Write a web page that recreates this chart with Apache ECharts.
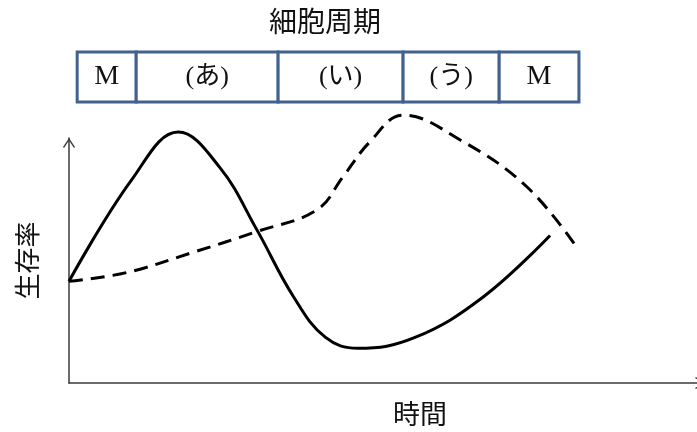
<!DOCTYPE html>
<html>
<head>
<meta charset="utf-8">
<title>細胞周期と生存率</title>
<script src="https://cdn.jsdelivr.net/npm/echarts@6/dist/echarts.min.js"></script>
<style>
  html, body { margin: 0; padding: 0; background: #fff; }
  #chart { width: 697px; height: 432px; }
</style>
</head>
<body>
<div id="chart"></div>
<script>
const TITLE = "細胞周期";
const X_NAME = "時間";
const Y_NAME = "生存率";

// cell cycle phases along the time axis (start, end)
const PHASE_LABELS = ["M", "(あ)", "(い)", "(う)", "M"];
const PHASE_BOUNDS = [1.3, 10.7, 33.3, 53.2, 68.5, 81.2];

// solid curve: [time, survival]
const SOLID_CURVE = [
  [0, 41.5], [10.0, 83.0], [17.4, 102.4], [24.0, 88.0], [29.9, 62.6],
  [35.7, 35.4], [40.8, 18.7], [46.0, 14.2], [55.0, 18.5], [65.9, 35.0],
  [76.6, 60.2],
];

// dashed curve: [time, survival]
const DASHED_CURVE = [
  [0, 41.5], [9.2, 45.1], [19.7, 53.3], [29.9, 61.8], [39.5, 70.7],
  [43.6, 84.1], [47.9, 98.4], [53.2, 109.3], [62.3, 99.2], [72.9, 80.1],
  [81.1, 54.5],
];

const BORDER_COLOR = "#41618f";
const TEXT_COLOR = "#111";
const AXIS_COLOR = "#3a3a3a";
const CJK_FONT = "'Noto Sans CJK JP', sans-serif";
const SERIF_FONT = "'Liberation Serif', 'Noto Sans CJK JP', serif";
const CHEVRON = "path://M0 0 L6 9 L5 10 L0 2.4 L-5 10 L-6 9 Z";

const phaseData = PHASE_LABELS.map((label, i) => [PHASE_BOUNDS[i], PHASE_BOUNDS[i + 1]]);

function renderPhase(params, api) {
  const topLeft = api.coord([api.value(0), 1]);
  const bottomRight = api.coord([api.value(1), 0]);
  const label = PHASE_LABELS[params.dataIndex];
  const isM = label === "M";
  return {
    type: "rect",
    shape: {
      x: topLeft[0],
      y: topLeft[1],
      width: bottomRight[0] - topLeft[0],
      height: bottomRight[1] - topLeft[1],
    },
    style: { fill: "#fff", stroke: BORDER_COLOR, lineWidth: 3 },
    textContent: {
      style: {
        text: label,
        fill: TEXT_COLOR,
        fontSize: isM ? 28 : 26,
        fontFamily: SERIF_FONT,
      },
    },
    textConfig: { position: "inside" },
  };
}

const chart = echarts.init(document.getElementById("chart"));

chart.setOption({
  animation: false,
  title: {
    text: TITLE,
    left: 325,
    top: 7,
    padding: 0,
    textAlign: "center",
    textStyle: { fontSize: 28, fontWeight: "normal", color: TEXT_COLOR, fontFamily: CJK_FONT },
  },
  grid: [
    { left: 69, right: 0, top: 138, bottom: 48 },
    { left: 69, right: 0, top: 52, height: 50 },
  ],
  xAxis: [
    {
      type: "value",
      gridIndex: 0,
      min: 0,
      max: 100,
      name: X_NAME,
      nameLocation: "middle",
      nameGap: 17,
      nameTextStyle: {
        fontSize: 27,
        color: TEXT_COLOR,
        fontFamily: CJK_FONT,
        padding: [0, 0, 0, 74],
      },
      axisLine: {
        lineStyle: { color: AXIS_COLOR, width: 1.5 },
        symbol: ["none", CHEVRON],
        symbolSize: [12, 10],
        symbolOffset: [0, 3],
      },
      axisTick: { show: false },
      axisLabel: { show: false },
      splitLine: { show: false },
    },
    {
      type: "value",
      gridIndex: 1,
      min: 0,
      max: 100,
      show: false,
    },
  ],
  yAxis: [
    {
      type: "value",
      gridIndex: 0,
      min: 0,
      max: 100,
      name: Y_NAME,
      nameLocation: "middle",
      nameRotate: 90,
      nameGap: 29,
      nameTextStyle: { fontSize: 26, color: TEXT_COLOR, fontFamily: CJK_FONT },
      axisLine: {
        show: true,
        lineStyle: { color: AXIS_COLOR, width: 1.5 },
        symbol: ["none", CHEVRON],
        symbolSize: [12, 10],
        symbolOffset: [0, -5],
      },
      axisTick: { show: false },
      axisLabel: { show: false },
      splitLine: { show: false },
    },
    {
      type: "value",
      gridIndex: 1,
      min: 0,
      max: 1,
      show: false,
    },
  ],
  series: [
    {
      type: "custom",
      xAxisIndex: 1,
      yAxisIndex: 1,
      renderItem: renderPhase,
      data: phaseData,
      silent: true,
    },
    {
      type: "line",
      data: SOLID_CURVE,
      smooth: 0.4,
      symbol: "none",
      clip: false,
      lineStyle: { color: "#000", width: 3 },
    },
    {
      type: "line",
      data: DASHED_CURVE,
      smooth: 0.4,
      symbol: "none",
      clip: false,
      lineStyle: { color: "#000", width: 3, type: [14, 8] },
    },
  ],
});
</script>
</body>
</html>
